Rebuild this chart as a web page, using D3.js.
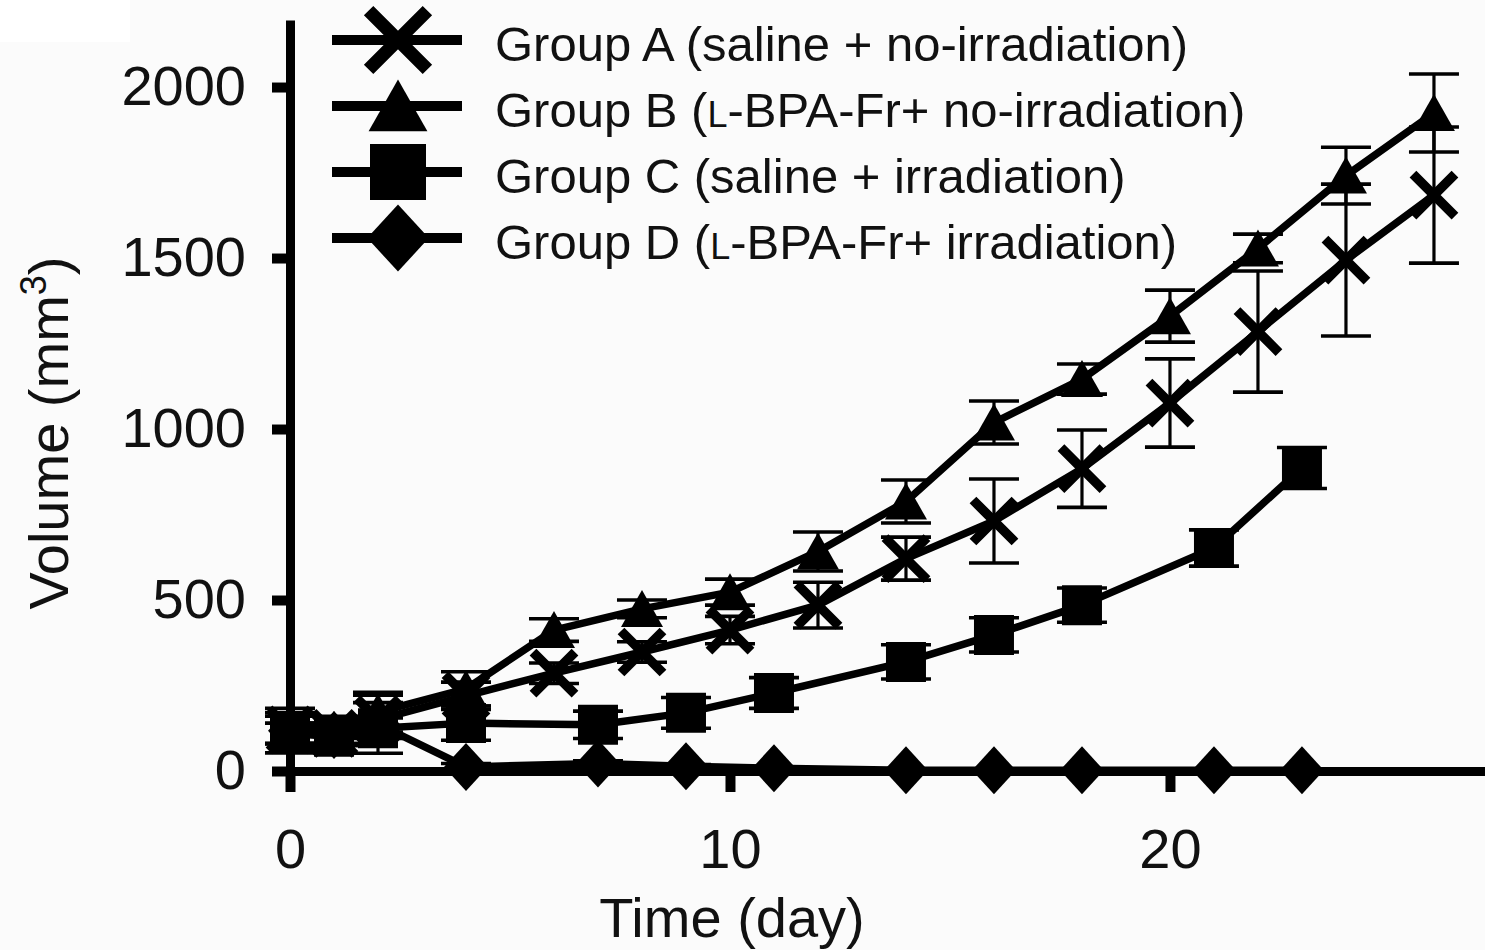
<!DOCTYPE html>
<html>
<head>
<meta charset="utf-8">
<script src="https://cdn.jsdelivr.net/npm/d3@7/dist/d3.min.js"></script>
<style>
  html, body { margin: 0; padding: 0; background: #fbfbfb; }
  svg { display: block; }
  text { font-family: "Liberation Sans", Arial, sans-serif; fill: #111; }
</style>
</head>
<body>
<svg id="chart" width="1485" height="950"></svg>
<script>
// Tumour volume over time, four treatment groups (mean ± SE)
const daysAB = [0, 1, 2, 4, 6, 8, 10, 12, 14, 16, 18, 20, 22, 24, 26];
const volA = [120, 110, 150, 220, 286, 348, 412, 485, 621, 731, 884, 1076, 1285, 1494, 1684];
const errA = [40, 30, 50, 40, 30, 30, 40, 67, 63, 123, 113, 129, 177, 222, 199];
const volB = [125, 120, 172, 240, 412, 474, 523, 642, 788, 1019, 1146, 1330, 1528, 1741, 1924];
const errB = [45, 40, 58, 50, 33, 26, 38, 57, 63, 63, 44, 76, 42, 83, 114];

const daysCD = [0, 1, 2, 4, 7, 9, 11, 14, 16, 18, 21, 23];
const volC = [110, 100, 125, 140, 135, 170, 228, 319, 398, 485, 652, 886];
const errC = [30, 25, 30, 50, 40, 45, 45, 50, 50, 50, 53, 60];
const volD = [118, 105, 137, 12, 22, 14, 8, 2, 2, 2, 2, 2];
const errD = [65, 30, 85, 10, 8, 5, 0, 0, 0, 0, 0, 0];

const groupNames = ["A", "B", "C", "D"];
const groupLabels = [
  ["Group A (saline + no-irradiation)"],
  ["Group B (", "L", "-BPA-Fr+ no-irradiation)"],
  ["Group C (saline + irradiation)"],
  ["Group D (", "L", "-BPA-Fr+ irradiation)"]
];
const groupMarkers = ["cross", "triangle", "square", "diamond"];
const yTicks = [0, 500, 1000, 1500, 2000];
const xTicks = [0, 10, 20];

const groups = [
  { days: daysAB, vol: volA, err: errA },
  { days: daysAB, vol: volB, err: errB },
  { days: daysCD, vol: volC, err: errC },
  { days: daysCD, vol: volD, err: errD }
].map((g, i) => ({
  name: groupNames[i],
  label: groupLabels[i],
  marker: groupMarkers[i],
  points: g.days.map((d, j) => ({ day: d, v: g.vol[j], e: g.err[j] }))
}));

const svg = d3.select("#chart");
const W = 1485, H = 950;

svg.append("rect").attr("width", W).attr("height", H).attr("fill", "#fbfbfb");
svg.append("rect").attr("width", 130).attr("height", 42).attr("fill", "#ffffff");

const x = d3.scaleLinear().domain([0, 27.16]).range([290, 1485]);
const y = d3.scaleLinear().domain([0, 2196]).range([771, 20]);

// marker glyphs, drawn around (0,0); k scales the glyph
function markerPath(type, k) {
  const p = d3.path();
  if (type === "triangle") {
    p.moveTo(0, -19 * k); p.lineTo(21 * k, 18 * k); p.lineTo(-21 * k, 18 * k); p.closePath();
  } else if (type === "square") {
    p.rect(-20 * k, -20 * k, 40 * k, 40 * k);
  } else if (type === "diamond") {
    p.moveTo(0, -24 * k); p.lineTo(22 * k, 0); p.lineTo(0, 24 * k); p.lineTo(-22 * k, 0); p.closePath();
  } else {
    const r = 21 * k;
    p.moveTo(-r, -r); p.lineTo(r, r); p.moveTo(r, -r); p.lineTo(-r, r);
  }
  return p.toString();
}
function drawMarker(sel, type, k) {
  if (type === "cross") {
    sel.append("path").attr("d", markerPath(type, k))
      .attr("fill", "none").attr("stroke", "#000").attr("stroke-width", 9.5 * k);
  } else {
    sel.append("path").attr("d", markerPath(type, k)).attr("fill", "#000");
  }
}

// axes
const yAxis = d3.axisLeft(y).tickValues(yTicks).tickFormat(d3.format("d"))
  .tickSize(18).tickSizeOuter(0).tickPadding(26);
const xAxis = d3.axisBottom(x).tickValues(xTicks).tickFormat(d3.format("d"))
  .tickSize(21).tickSizeOuter(0).tickPadding(36);

const gy = svg.append("g").attr("transform", `translate(${x(0)},0)`).call(yAxis);
const gx = svg.append("g").attr("transform", `translate(0,${y(0)})`).call(xAxis);
[gx, gy].forEach(g => {
  g.select(".domain").attr("stroke", "#000").attr("stroke-width", 9);
  g.selectAll(".tick line").attr("stroke", "#000").attr("stroke-width", 10);
  g.selectAll(".tick text").attr("font-size", 56)
    .attr("font-family", "'Liberation Sans', Arial, sans-serif").attr("fill", "#111");
});

// series: connecting lines, error bars, markers
const line = d3.line().x(d => x(d.day)).y(d => y(d.v));
const plot = svg.append("g");

groups.forEach(g => {
  plot.append("path").datum(g.points).attr("d", line)
    .attr("fill", "none").attr("stroke", "#000").attr("stroke-width", 7.5)
    .attr("stroke-linejoin", "round");
});

groups.forEach(g => {
  const eb = plot.append("g");
  g.points.filter(p => p.e > 0).forEach(p => {
    const cx = x(p.day), y1 = y(p.v + p.e), y2 = y(p.v - p.e);
    eb.append("line").attr("x1", cx).attr("x2", cx).attr("y1", y1).attr("y2", y2)
      .attr("stroke", "#000").attr("stroke-width", 3.2);
    [y1, y2].forEach(yy => {
      eb.append("line").attr("x1", cx - 25).attr("x2", cx + 25).attr("y1", yy).attr("y2", yy)
        .attr("stroke", "#000").attr("stroke-width", 3.6);
    });
  });
});

groups.forEach(g => {
  g.points.forEach(p => {
    const m = plot.append("g").attr("transform", `translate(${x(p.day)},${y(p.v)})`);
    drawMarker(m, g.marker, 1);
  });
});

// legend
const legend = svg.append("g");
const legendY = [40, 106, 172, 238];
groups.forEach((g, i) => {
  const ly = legendY[i];
  legend.append("line").attr("x1", 332).attr("x2", 462).attr("y1", ly).attr("y2", ly)
    .attr("stroke", "#000").attr("stroke-width", 10);
  const m = legend.append("g").attr("transform", `translate(398,${ly})`);
  drawMarker(m, g.marker, 1.4);
  const t = legend.append("text").attr("x", 495).attr("y", ly + 21).attr("font-size", 49);
  g.label.forEach((part, j) => {
    const ts = t.append("tspan").text(part);
    if (part === "L" && g.label.length > 1 && j === 1) ts.attr("font-size", 36);
  });
});

// axis titles
svg.append("text").attr("x", 732).attr("y", 937).attr("text-anchor", "middle")
  .attr("font-size", 56).text("Time (day)");

const yt = svg.append("text").attr("transform", "translate(68,433) rotate(-90)")
  .attr("text-anchor", "middle").attr("font-size", 56);
yt.append("tspan").text("Volume (mm");
yt.append("tspan").attr("font-size", 36).attr("dy", -22).text("3");
yt.append("tspan").attr("dy", 22).text(")");
</script>
</body>
</html>
